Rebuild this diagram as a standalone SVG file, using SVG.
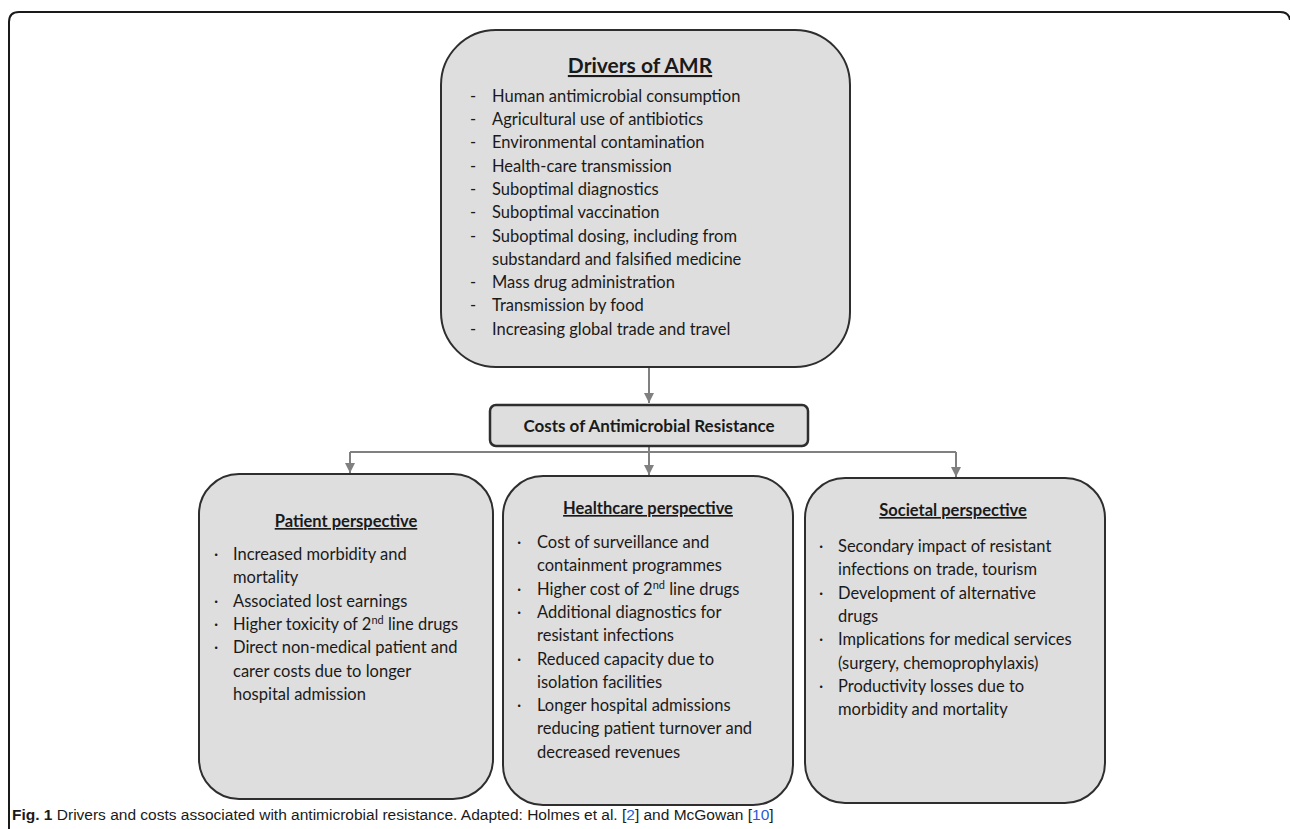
<svg xmlns="http://www.w3.org/2000/svg" width="1290" height="829" viewBox="0 0 1290 829">
<defs>
<style>
.box{fill:#dedede;stroke:#2e2e2e;stroke-width:2}
.t{font-family:Lato,"Open Sans",sans-serif;font-size:16.5px;fill:#1a1a1a}
.h{font-family:Lato,"Open Sans",sans-serif;font-size:16.5px;font-weight:bold;fill:#1a1a1a;text-decoration:underline}
.c{stroke:#808080;stroke-width:2;fill:none}
.sup{font-size:11px}
</style>
<marker id="ah" viewBox="0 0 10 10" refX="10" refY="5" markerWidth="5" markerHeight="5" orient="auto" markerUnits="strokeWidth">
<path d="M0,0 L10,5 L0,10 z" fill="#808080"/>
</marker>
</defs>
<rect width="1290" height="829" fill="#ffffff"/>
<path d="M9,829 V22 Q9,12 19,12 H1280 Q1289,12 1290,20" fill="none" stroke="#1a1a1a" stroke-width="2"/>

<g id="connectors">
<path class="c" d="M649,367 V403" marker-end="url(#ah)"/>
<path class="c" d="M649,446 V452 M350,452 H956"/>
<path class="c" d="M350,452 V473" marker-end="url(#ah)"/>
<path class="c" d="M649,452 V475" marker-end="url(#ah)"/>
<path class="c" d="M956,452 V477" marker-end="url(#ah)"/>
</g>

<g id="drivers">
<rect class="box" x="441" y="30" width="409" height="337" rx="55" ry="55"/>
<text x="640" y="73" text-anchor="middle" class="h" style="font-size:21px">Drivers of AMR</text>
<g class="t">
<text x="470" y="101.7">-</text><text x="492" y="101.7">Human antimicrobial consumption</text>
<text x="470" y="125">-</text><text x="492" y="125">Agricultural use of antibiotics</text>
<text x="470" y="148.3">-</text><text x="492" y="148.3">Environmental contamination</text>
<text x="470" y="171.6">-</text><text x="492" y="171.6">Health-care transmission</text>
<text x="470" y="194.9">-</text><text x="492" y="194.9">Suboptimal diagnostics</text>
<text x="470" y="218.2">-</text><text x="492" y="218.2">Suboptimal vaccination</text>
<text x="470" y="241.5">-</text><text x="492" y="241.5">Suboptimal dosing, including from</text>
<text x="492" y="264.8">substandard and falsified medicine</text>
<text x="470" y="288.1">-</text><text x="492" y="288.1">Mass drug administration</text>
<text x="470" y="311.4">-</text><text x="492" y="311.4">Transmission by food</text>
<text x="470" y="334.7">-</text><text x="492" y="334.7">Increasing global trade and travel</text>
</g>
</g>

<g id="costs">
<rect x="490" y="405" width="318" height="41" rx="6" ry="6" fill="#dedede" stroke="#2e2e2e" stroke-width="2.5"/>
<text x="649" y="432" text-anchor="middle" style="font-family:Lato,'Open Sans',sans-serif;font-size:17px;font-weight:bold;fill:#1a1a1a">Costs of Antimicrobial Resistance</text>
</g>

<g id="patient">
<rect class="box" x="199" y="474" width="294" height="325" rx="40" ry="40"/>
<text x="346" y="527" text-anchor="middle" class="h">Patient perspective</text>
<g class="t">
<text x="214" y="560">·</text><text x="233" y="560">Increased morbidity and</text>
<text x="233" y="583.3">mortality</text>
<text x="214" y="606.6">·</text><text x="233" y="606.6">Associated lost earnings</text>
<text x="214" y="629.9">·</text><text x="233" y="629.9">Higher toxicity of 2<tspan class="sup" dy="-6">nd</tspan><tspan dy="6"> line drugs</tspan></text>
<text x="214" y="653.2">·</text><text x="233" y="653.2">Direct non-medical patient and</text>
<text x="233" y="676.5">carer costs due to longer</text>
<text x="233" y="699.8">hospital admission</text>
</g>
</g>

<g id="healthcare">
<rect class="box" x="503" y="476" width="290" height="329" rx="40" ry="40"/>
<text x="648" y="514" text-anchor="middle" class="h">Healthcare perspective</text>
<g class="t">
<text x="517" y="548">·</text><text x="537" y="548">Cost of surveillance and</text>
<text x="537" y="571.3">containment programmes</text>
<text x="517" y="594.6">·</text><text x="537" y="594.6">Higher cost of 2<tspan class="sup" dy="-6">nd</tspan><tspan dy="6"> line drugs</tspan></text>
<text x="517" y="617.9">·</text><text x="537" y="617.9">Additional diagnostics for</text>
<text x="537" y="641.2">resistant infections</text>
<text x="517" y="664.5">·</text><text x="537" y="664.5">Reduced capacity due to</text>
<text x="537" y="687.8">isolation facilities</text>
<text x="517" y="711.1">·</text><text x="537" y="711.1">Longer hospital admissions</text>
<text x="537" y="734.4">reducing patient turnover and</text>
<text x="537" y="757.7">decreased revenues</text>
</g>
</g>

<g id="societal">
<rect class="box" x="805" y="478" width="300" height="325" rx="40" ry="40"/>
<text x="953" y="516" text-anchor="middle" class="h">Societal perspective</text>
<g class="t">
<text x="819" y="552">·</text><text x="838" y="552">Secondary impact of resistant</text>
<text x="838" y="575.3">infections on trade, tourism</text>
<text x="819" y="598.6">·</text><text x="838" y="598.6">Development of alternative</text>
<text x="838" y="621.9">drugs</text>
<text x="819" y="645.2">·</text><text x="838" y="645.2">Implications for medical services</text>
<text x="838" y="668.5">(surgery, chemoprophylaxis)</text>
<text x="819" y="691.8">·</text><text x="838" y="691.8">Productivity losses due to</text>
<text x="838" y="715.1">morbidity and mortality</text>
</g>
</g>

<g id="caption">
<text x="12" y="820" style="font-family:'Liberation Sans',sans-serif;font-size:15.5px;fill:#1a1a1a"><tspan font-weight="bold">Fig. 1</tspan> Drivers and costs associated with antimicrobial resistance. Adapted: Holmes et al. [<tspan fill="#2a5bd7">2</tspan>] and McGowan [<tspan fill="#2a5bd7">10</tspan>]</text>
</g>
</svg>
